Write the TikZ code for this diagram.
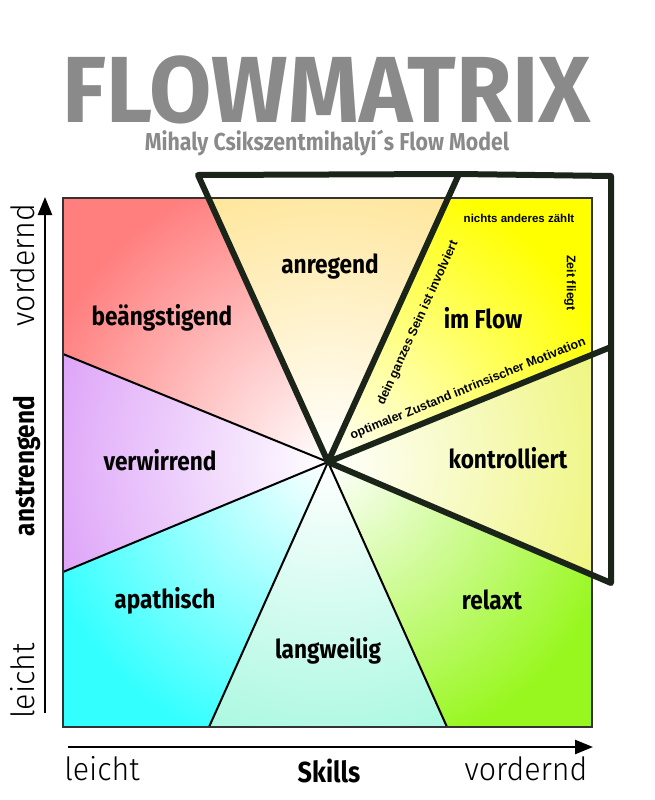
\documentclass[tikz,border=0pt]{standalone}
\usepackage{fontspec}
\usepackage{tikz}
\usetikzlibrary{arrows.meta,calc}
\newfontfamily\dinfont[FakeStretch=0.87]{Fira Sans}
\newfontfamily\dintitle[FakeStretch=0.96]{Fira Sans}
\newfontfamily\dinlight[FakeStretch=0.95]{Fira Sans Light}
\newfontfamily\arialfont{Liberation Sans}
\definecolor{titlegray}{HTML}{8A8A8A}
\definecolor{outline}{HTML}{1B2419}
\definecolor{cRed}{HTML}{FF7F7F}
\definecolor{cPeach}{HTML}{FFE597}
\definecolor{cYellow}{HTML}{FFFF00}
\definecolor{cLime}{HTML}{EEF57A}
\definecolor{cGreen}{HTML}{99F720}
\definecolor{cAqua}{HTML}{A8F8E0}
\definecolor{cCyan}{HTML}{33FFFF}
\definecolor{cLilac}{HTML}{DCA0F8}

\begin{document}
\begin{tikzpicture}[x=1pt,y=-1pt,
    zone/.style={font=\dinfont\bfseries\fontsize{26}{26}\selectfont},
    note/.style={font=\arialfont\bfseries\fontsize{12.5}{12.5}\selectfont, inner sep=0pt},
    axislight/.style={font=\dinlight\fontsize{32}{32}\selectfont},
    axisbold/.style={font=\dinfont\bfseries\fontsize{28}{28}\selectfont},
    sectorline/.style={line width=2pt},
    flowline/.style={line width=6pt, draw=outline, line join=round, line cap=round}]
  \useasboundingbox (0,0) rectangle (654,800);

  % Centre and corners of the matrix
  \coordinate (C) at (328,462);
  \coordinate (NW) at (63,198);
  \coordinate (SE) at (592,727);
  % Ends of the rays
  \coordinate (tl) at (198,175);
  \coordinate (tr) at (459,174);
  \coordinate (fc) at (611,176);
  \coordinate (r1) at (611,347);
  \coordinate (r2) at (611,583);
  \coordinate (b2) at (447,727);
  \coordinate (b1) at (209,727);
  \coordinate (l2) at (63,572);
  \coordinate (l1) at (63,354);

  % Colour zones
  \begin{scope}
    \clip (NW) rectangle (SE);
    \foreach \a/\b/\col in {l1/tl/cRed, tl/tr/cPeach, tr/r1/cYellow, r1/r2/cLime,
                            r2/b2/cGreen, b2/b1/cAqua, b1/l2/cCyan, l2/l1/cLilac} {
      \begin{scope}
        \clip (C) -- ($(C)!3!(\a)$) -- ($(C)!3!(\b)$) -- cycle;
        \fill[\col] (C) circle (500);
        \shade[inner color=white, outer color=\col] (C) circle (300);
      \end{scope}
    }
  \end{scope}

  % Thin borders and frame
  \draw[sectorline] (C) -- (l1) (C) -- (l2) (C) -- (b1) (C) -- (b2);
  \draw[line width=2.5pt, draw=black!80] (NW) rectangle (SE);

  % Flow outline
  \draw[flowline] (tl) -- (tr) -- (C) -- cycle;
  \draw[flowline] (tr) -- (fc) -- (r2) -- (C) -- (r1);

  % Zone labels
  \node[zone] (beang) at (162,318) {beängstigend};
  \node[zone] (anreg) at (330,267) {anregend};
  \node[zone] (flow) at (483,318) {im Flow};
  \node[zone] (verw) at (160,460) {verwirrend};
  \node[zone] (kontr) at (508,458) {kontrolliert};
  \node[zone] (apath) at (165,601) {apathisch};
  \node[zone] (relax) at (492,600) {relaxt};
  \node[zone] (langw) at (328,651) {langweilig};

  % Notes in the flow zone
  \node[note, font=\arialfont\bfseries\fontsize{11.5}{11.5}\selectfont] (zaehlt) at (519,218) {nichts anderes zählt};
  \node[note, rotate=-90] (zeit) at (570,283) {Zeit fliegt};
  \node[note, rotate=65.5] (sein) at (418,323) {dein ganzes Sein ist involviert};
  \node[note, rotate=22.1] (motiv) at (468,389) {optimaler Zustand intrinsischer Motivation};

  % Axes
  \coordinate (yb) at (45,713);
  \coordinate (yt) at (45,197);
  \coordinate (xl) at (68,747);
  \coordinate (xr) at (593,747);
  \draw[line width=2.5pt, -{Triangle[length=18pt,width=14pt]}] (yb) -- (yt);
  \draw[line width=2.5pt, -{Triangle[length=18pt,width=14pt]}] (xl) -- (xr);
  \node[axislight, rotate=90] (yhi) at (23,265) {vordernd};
  \node[axisbold, rotate=90] (ymid) at (27,466) {anstrengend};
  \node[axislight, rotate=90] (ylo) at (23,681) {leicht};
  \node[axislight] (xlo) at (102,769) {leicht};
  \node[axisbold, font=\dinfont\bfseries\fontsize{29}{29}\selectfont] (xmid) at (329,771) {Skills};
  \node[axislight] (xhi) at (526,769) {vordernd};

  % Title
  \node[font=\dintitle\bfseries\fontsize{94}{94}\selectfont, text=titlegray, anchor=base] (title) at (327,122) {FLOWMATRIX};
  \node[font=\dinfont\bfseries\fontsize{24.5}{24.5}\selectfont, text=titlegray, anchor=base] (subtitle) at (327,150) {Mihaly Csikszentmihalyi´s Flow Model};
\end{tikzpicture}
\end{document}
